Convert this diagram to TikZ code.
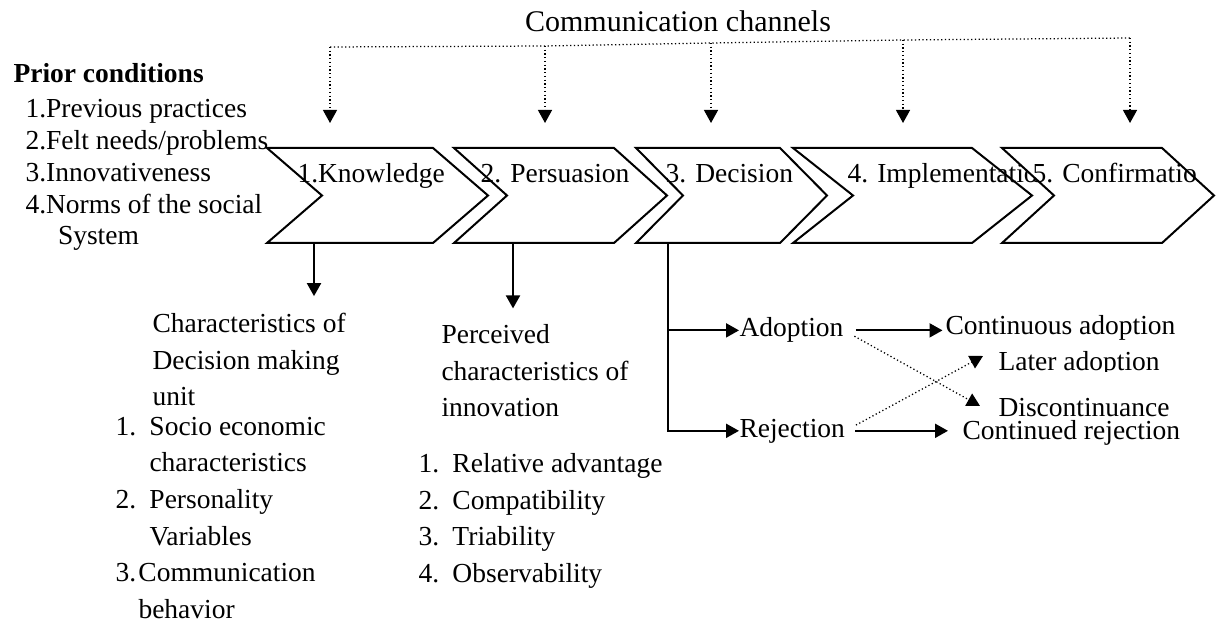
\documentclass[tikz,border=0pt]{standalone}
\usepackage{fontspec}
\setmainfont{Liberation Serif}
\usetikzlibrary{arrows.meta}

\begin{document}
\begin{tikzpicture}[x=0.4pt,y=-0.4pt,
    >={Triangle[width=5.6pt,length=5.2pt]},
    chev/.style={draw,fill=white,line width=0.8pt,line join=miter},
    txt/.style={inner sep=0pt,font=\fontsize{11}{12.7}\selectfont,align=left},
    lst/.style={txt,font=\fontsize{11}{14.6}\selectfont},
    arr/.style={->,line width=0.8pt},
    chan/.style={line width=0.5pt,densely dotted}]

    \useasboundingbox (0,0) rectangle (1217,624);

    % prior conditions (multi-line nodes sit on their last baseline)
    \node[txt,anchor=base west] (prior) at (13,83) {\bfseries Prior conditions};
    \node[txt,anchor=base west] (prilist) at (25,245)
        {1.Previous practices\\2.Felt needs/problems\\3.Innovativeness\\4.Norms of the social\\\hspace*{13pt}System};

    % the five stages
    \foreach \xl/\d/\xr/\nm/\tx/\cr/\lbl in
        {267/55/433/kno/297/1217/1.Knowledge,
         454/53/614/per/480/1217/2. Persuasion,
         636/47/780/dec/665/1217/3. Decision,
         793/60/972/imp/847/1217/4. Implementatio,
         1002/52/1162/con/1032/1197/5. Confirmatio}
    {
        \draw[chev] (\xl,148) -- (\xr,148) -- (\xr+\d,195.5) -- (\xr,243)
            -- (\xl,243) -- (\xl+\d,195.5) -- cycle;
        \begin{scope}
            \clip (\xl,140) rectangle (\cr,250);
            \node[txt,anchor=base west] (\nm) at (\tx,183) {\lbl};
        \end{scope}
    }

    % communication channels
    \node[txt,font=\fontsize{12}{14}\selectfont,anchor=base] (chan) at (678,32) {Communication channels};
    \foreach \i/\x/\y in {1/330/47,2/545/46,3/711/43,4/903/40,5/1130/38}
    {
        \coordinate (ch\i) at (\x,\y);
        \coordinate (in\i) at (\x,123);
        \draw[chan,->] (ch\i) -- (in\i);
    }
    \draw[chan] (ch1) -- (ch2) -- (ch3) -- (ch4) -- (ch5);

    % knowledge
    \node[lst,anchor=base west] (char) at (152,406) {Characteristics of\\Decision making\\unit};
    \node[lst,anchor=base west] (charlist) at (115,618)
        {\makebox[13.6pt][l]{1.}Socio economic\\\hspace*{13.6pt}characteristics\\
         \makebox[13.6pt][l]{2.}Personality\\\hspace*{13.6pt}Variables\\
         \makebox[9.2pt][l]{3.}Communication\\\hspace*{9.2pt}behavior};

    % persuasion
    \begin{scope}
        \clip (400,300) rectangle (700,419);
        \node[lst,anchor=base west] (perc) at (441,417) {Perceived\\characteristics of\\innovation};
    \end{scope}
    \node[lst,anchor=base west] (perclist) at (418,582)
        {\makebox[13.6pt][l]{1.}Relative advantage\\\makebox[13.6pt][l]{2.}Compatibility\\
         \makebox[13.6pt][l]{3.}Triability\\\makebox[13.6pt][l]{4.}Observability};

    % decision
    \node[txt,anchor=base west] (adopt) at (739,337) {Adoption};
    \node[txt,anchor=base west] (rej) at (739,437) {Rejection};
    \node[txt,anchor=base west] (contad) at (945,335) {Continuous adoption};
    \node[txt,anchor=base west] (contrej) at (962,440) {Continued rejection};
    \begin{scope}
        \clip (990,340) rectangle (1217,372);
        \node[txt,anchor=base west] (later) at (998,371) {Later adoption};
    \end{scope}
    \begin{scope}
        \clip (990,390) rectangle (1217,418);
        \node[txt,anchor=base west] (disc) at (998,417) {Discontinuance};
    \end{scope}
    \coordinate (later-in) at (983,356);
    \coordinate (disc-in) at (980,406);

    \coordinate (kno-s) at (314,243);
    \coordinate (per-s) at (513,243);
    \coordinate (dec-s) at (668,243);

    \draw[arr,shorten >=6.8pt] (kno-s) -- (kno-s |- char.north);
    \draw[arr,shorten >=6.4pt] (per-s) -- (per-s |- perc.north);
    \draw[arr] (dec-s) |- (adopt.west);
    \draw[arr] (dec-s) |- (rej.west);
    \draw[arr,shorten <=4.8pt,shorten >=1pt] (adopt.east) -- (contad.west |- adopt.east);
    \draw[arr,shorten <=4pt,shorten >=5.6pt] (rej.east) -- (contrej.west |- rej.east);
    \draw[chan,->,shorten <=4.8pt] (adopt.east) -- (disc-in);
    \draw[chan,->,shorten <=4.8pt] (rej.east) -- (later-in);

\end{tikzpicture}
\end{document}
